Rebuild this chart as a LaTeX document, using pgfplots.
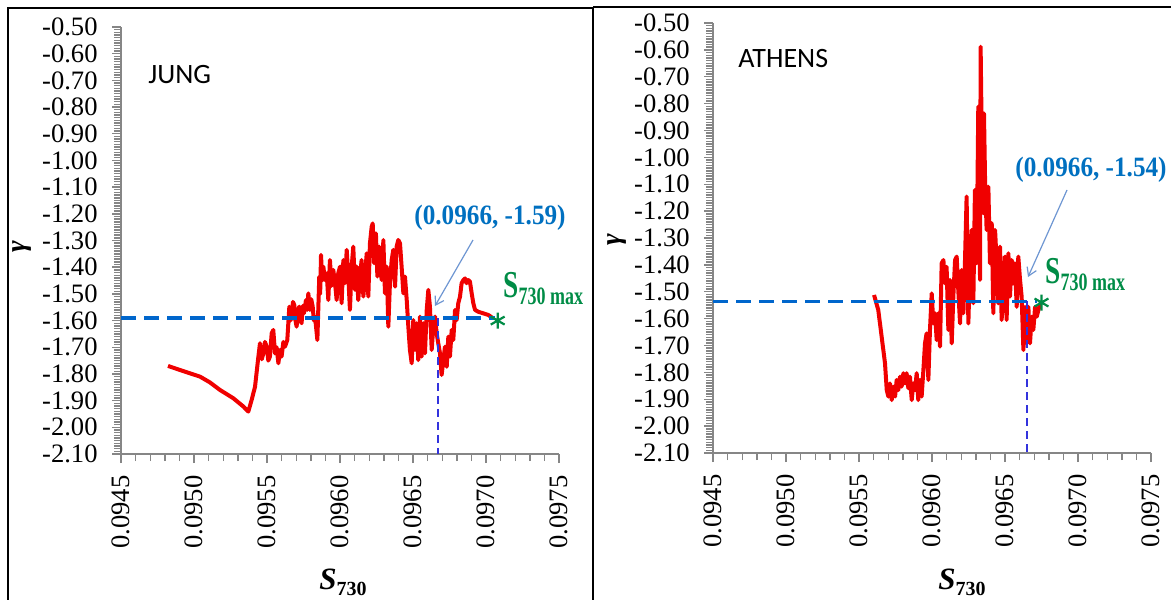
\documentclass[border=0pt]{standalone}
\usepackage{fontspec}
\setmainfont{Liberation Serif}
\newfontfamily\calibri{Carlito}
\usepackage{pgfplots}
\pgfplotsset{compat=1.18}
\usetikzlibrary{arrows.meta}
\definecolor{redline}{RGB}{240,0,0}
\definecolor{hdash}{RGB}{0,102,204}
\definecolor{vdash}{RGB}{51,51,221}
\definecolor{annblue}{RGB}{0,112,192}
\definecolor{anngreen}{RGB}{0,140,70}
\definecolor{arrowblue}{RGB}{110,150,210}
\definecolor{axisgray}{RGB}{134,134,134}

\pgfplotstableread{
x y
0.094822 -1.770
0.094930 -1.790
0.095041 -1.810
0.095110 -1.832
0.095178 -1.860
0.095269 -1.891
0.095338 -1.922
0.095372 -1.941
0.095395 -1.897
0.095418 -1.848
0.095441 -1.735
0.095452 -1.685
0.095464 -1.745
0.095475 -1.723
0.095486 -1.680
0.095498 -1.698
0.095509 -1.750
0.095520 -1.735
0.095532 -1.648
0.095543 -1.635
0.095555 -1.723
0.095566 -1.700
0.095578 -1.760
0.095589 -1.710
0.095600 -1.735
0.095612 -1.680
0.095623 -1.698
0.095639 -1.673
0.095653 -1.548
0.095661 -1.600
0.095669 -1.573
0.095678 -1.530
0.095687 -1.542
0.095695 -1.600
0.095703 -1.623
0.095712 -1.560
0.095721 -1.548
0.095729 -1.600
0.095737 -1.610
0.095745 -1.545
0.095753 -1.573
0.095767 -1.523
0.095775 -1.560
0.095783 -1.498
0.095794 -1.560
0.095803 -1.520
0.095813 -1.548
0.095821 -1.600
0.095829 -1.585
0.095845 -1.673
0.095858 -1.435
0.095864 -1.500
0.095870 -1.354
0.095878 -1.450
0.095886 -1.398
0.095897 -1.448
0.095909 -1.423
0.095920 -1.523
0.095931 -1.373
0.095942 -1.470
0.095954 -1.410
0.095966 -1.460
0.095977 -1.523
0.095988 -1.423
0.096000 -1.398
0.096011 -1.535
0.096023 -1.373
0.096034 -1.460
0.096046 -1.335
0.096057 -1.435
0.096068 -1.560
0.096080 -1.398
0.096091 -1.323
0.096103 -1.485
0.096114 -1.398
0.096125 -1.523
0.096137 -1.435
0.096148 -1.373
0.096160 -1.510
0.096171 -1.435
0.096183 -1.348
0.096194 -1.510
0.096205 -1.311
0.096217 -1.248
0.096224 -1.236
0.096233 -1.385
0.096246 -1.273
0.096256 -1.435
0.096269 -1.323
0.096285 -1.448
0.096297 -1.298
0.096308 -1.498
0.096320 -1.398
0.096331 -1.623
0.096342 -1.460
0.096354 -1.373
0.096365 -1.335
0.096377 -1.473
0.096388 -1.323
0.096399 -1.298
0.096411 -1.311
0.096422 -1.398
0.096434 -1.498
0.096445 -1.435
0.096457 -1.523
0.096468 -1.623
0.096479 -1.710
0.096491 -1.760
0.096502 -1.598
0.096514 -1.710
0.096525 -1.610
0.096536 -1.748
0.096548 -1.585
0.096559 -1.735
0.096571 -1.610
0.096582 -1.723
0.096594 -1.560
0.096605 -1.485
0.096616 -1.548
0.096628 -1.710
0.096639 -1.623
0.096651 -1.585
0.096662 -1.648
0.096673 -1.685
0.096685 -1.723
0.096696 -1.804
0.096708 -1.748
0.096719 -1.698
0.096731 -1.773
0.096742 -1.660
0.096753 -1.735
0.096765 -1.635
0.096776 -1.673
0.096788 -1.560
0.096799 -1.598
0.096810 -1.535
0.096822 -1.510
0.096833 -1.460
0.096845 -1.448
0.096856 -1.442
0.096867 -1.460
0.096879 -1.448
0.096890 -1.454
0.096902 -1.498
0.096913 -1.535
0.096925 -1.560
0.096947 -1.567
0.096982 -1.573
0.097016 -1.579
0.097050 -1.592
}\jung

\pgfplotstableread{
x y
0.095603 -1.512
0.095632 -1.568
0.095655 -1.667
0.095678 -1.766
0.095690 -1.866
0.095701 -1.890
0.095712 -1.841
0.095724 -1.903
0.095735 -1.853
0.095747 -1.890
0.095758 -1.828
0.095769 -1.866
0.095781 -1.816
0.095792 -1.853
0.095804 -1.803
0.095815 -1.841
0.095826 -1.803
0.095838 -1.859
0.095849 -1.816
0.095861 -1.903
0.095872 -1.841
0.095884 -1.866
0.095895 -1.803
0.095906 -1.903
0.095918 -1.828
0.095929 -1.890
0.095941 -1.791
0.095952 -1.692
0.095963 -1.655
0.095975 -1.828
0.095986 -1.642
0.095998 -1.506
0.096009 -1.618
0.096021 -1.580
0.096032 -1.680
0.096043 -1.580
0.096055 -1.704
0.096066 -1.394
0.096078 -1.382
0.096089 -1.469
0.096100 -1.407
0.096112 -1.642
0.096123 -1.456
0.096135 -1.692
0.096146 -1.518
0.096158 -1.382
0.096169 -1.369
0.096180 -1.494
0.096192 -1.618
0.096203 -1.419
0.096215 -1.580
0.096226 -1.382
0.096237 -1.146
0.096249 -1.618
0.096260 -1.394
0.096272 -1.270
0.096283 -1.543
0.096294 -1.121
0.096306 -1.394
0.096317 -0.811
0.096329 -1.456
0.096333 -0.588
0.096340 -0.898
0.096352 -1.208
0.096356 -0.836
0.096363 -1.072
0.096374 -1.270
0.096386 -1.109
0.096397 -1.394
0.096409 -1.245
0.096420 -1.580
0.096432 -1.270
0.096443 -1.394
0.096454 -1.543
0.096466 -1.332
0.096477 -1.605
0.096489 -1.469
0.096500 -1.369
0.096511 -1.605
0.096523 -1.357
0.096534 -1.518
0.096546 -1.382
0.096557 -1.469
0.096568 -1.394
0.096580 -1.556
0.096591 -1.369
0.096603 -1.456
0.096614 -1.518
0.096626 -1.717
0.096637 -1.556
0.096649 -1.692
0.096660 -1.556
0.096671 -1.692
0.096683 -1.593
0.096694 -1.642
0.096706 -1.556
0.096717 -1.593
0.096740 -1.543
}\athens

\pgfplotsset{
  panel/.style={
    scale only axis, width=219pt,
    xmin=0.0945, xmax=0.0975, ymin=-2.1, ymax=-0.5,
    axis x line=bottom, axis y line=left,
    axis line style={-, draw=axisgray, line width=1pt},
    tick style={draw=axisgray, line width=0.7pt},
    tick align=outside,
    major tick length=4.5pt, minor tick length=3.5pt,
    xtick={0.0945,0.0950,0.0955,0.0960,0.0965,0.0970,0.0975},
    xticklabels={0.0945,0.0950,0.0955,0.0960,0.0965,0.0970,0.0975},
    minor x tick num=4,
    ytick={-2.1,-2.0,-1.9,-1.8,-1.7,-1.6,-1.5,-1.4,-1.3,-1.2,-1.1,-1.0,-0.9,-0.8,-0.7,-0.6,-0.5},
    yticklabels={-2.10,-2.00,-1.90,-1.80,-1.70,-1.60,-1.50,-1.40,-1.30,-1.20,-1.10,-1.00,-0.90,-0.80,-0.70,-0.60,-0.50},
    minor y tick num=9,
    scaled x ticks=false, scaled y ticks=false,
    tick label style={font=\fontsize{13.3}{13.3}\selectfont},
    xticklabel style={rotate=90, anchor=east, inner sep=0pt},
    yticklabel style={anchor=east, inner sep=0pt},
    xticklabel shift=6pt, yticklabel shift=7pt,
    clip=false,
  },
  redcurve/.style={draw=redline, line width=2pt, line join=round, no marks},
  hline/.style={draw=hdash, line width=1.6pt, dash pattern=on 7.5pt off 4pt, no marks},
  vline/.style={draw=vdash, line width=1pt, dash pattern=on 4pt off 2.5pt, no marks},
  star/.style={only marks, mark=asterisk, mark size=4pt, mark options={draw=anngreen, line width=1.1pt}},
}

\begin{document}
\begin{tikzpicture}
\useasboundingbox (0pt,0pt) rectangle (585.5pt,-299.5pt);
% frames
\draw[line width=1pt, black] (4pt,-300pt) -- (4pt,-4pt) -- (296.5pt,-4pt) -- (296.5pt,-300pt);
\draw[line width=1pt, black] (296.5pt,-3.5pt) -- (586pt,-3.5pt);

% ---------------- JUNG
\begin{axis}[panel, height=213.5pt, at={(60.5pt,-227pt)}, anchor=south west]
\addplot[redcurve] table {\jung};
\addplot[hline] coordinates {(0.0945,-1.59) (0.09706,-1.59)};
\addplot[vline] coordinates {(0.09667,-1.59) (0.09667,-2.1)};
\addplot[star] coordinates {(0.09708,-1.60)};
\end{axis}

% ---------------- ATHENS
\begin{axis}[panel, height=215pt, at={(356.5pt,-226.5pt)}, anchor=south west]
\addplot[redcurve] table {\athens};
\addplot[hline] coordinates {(0.0945,-1.535) (0.09672,-1.535)};
\addplot[vline] coordinates {(0.09665,-1.535) (0.09665,-2.1)};
\addplot[star] coordinates {(0.09675,-1.54)};
\end{axis}

% panel names
\node[anchor=west, inner sep=0pt, font=\calibri\fontsize{14}{14}\selectfont] at (74pt,-37.5pt) {JUNG};
\node[anchor=west, inner sep=0pt, font=\calibri\fontsize{14}{14}\selectfont] at (369pt,-29.25pt) {ATHENS};

% y labels
\node[rotate=90, inner sep=0pt, font=\fontsize{14}{14}\selectfont\bfseries\itshape] at (11pt,-123.5pt) {γ};
\node[rotate=90, inner sep=0pt, font=\fontsize{14}{14}\selectfont\bfseries\itshape] at (308.5pt,-120pt) {γ};

% x labels
\node[inner sep=0pt] at (171.5pt,-291pt) {\fontsize{15.5}{15.5}\selectfont\bfseries\itshape S\raisebox{-3pt}{\fontsize{10}{10}\selectfont\upshape 730}};
\node[inner sep=0pt] at (481pt,-291pt) {\fontsize{15.5}{15.5}\selectfont\bfseries\itshape S\raisebox{-3pt}{\fontsize{10}{10}\selectfont\upshape 730}};

% annotations JUNG
\node[inner sep=0pt, text=annblue] at (245pt,-109pt) {\scalebox{0.9}[1]{\fontsize{14}{14}\selectfont\bfseries (0.0966, -1.59)}};
\draw[arrowblue, line width=0.6pt, -{Straight Barb[length=4pt,width=5pt]}] (236.5pt,-120pt) -- (217.5pt,-153pt);
\node[anchor=base west, inner sep=0pt, text=anngreen] at (251.5pt,-148.5pt) {\scalebox{0.72}[1]{\fontsize{19}{19}\selectfont\bfseries S\raisebox{-3.5pt}{\fontsize{12.5}{12.5}\selectfont 730 max}}};

% annotations ATHENS
\node[inner sep=0pt, text=annblue] at (545.5pt,-85pt) {\scalebox{0.9}[1]{\fontsize{14}{14}\selectfont\bfseries (0.0966, -1.54)}};
\draw[arrowblue, line width=0.6pt, -{Straight Barb[length=4pt,width=5pt]}] (533.5pt,-95pt) -- (514pt,-138.5pt);
\node[anchor=base west, inner sep=0pt, text=anngreen] at (522.5pt,-141.5pt) {\scalebox{0.72}[1]{\fontsize{19}{19}\selectfont\bfseries S\raisebox{-3.5pt}{\fontsize{12.5}{12.5}\selectfont 730 max}}};
\end{tikzpicture}
\end{document}
